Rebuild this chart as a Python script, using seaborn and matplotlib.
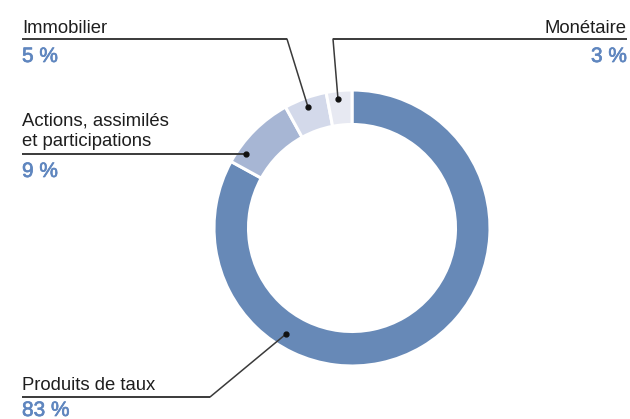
import matplotlib
matplotlib.use("Agg")
import matplotlib.pyplot as plt
import matplotlib.patheffects as pe
import seaborn as sns

# data
categories = ["Produits de taux", "Actions, assimilés\net participations", "Immobilier", "Monétaire"]
shares = [83, 9, 5, 3]
pct_labels = ["83 %", "9 %", "5 %", "3 %"]
colors = ["#6789b7", "#a7b6d4", "#d3d9ea", "#e7e9f2"]

sns.set_theme(style="white")
plt.rcParams['font.family'] = ['Liberation Sans', 'DejaVu Sans']

W, H = 630, 419
fig = plt.figure(figsize=(W / 100, H / 100), dpi=100)
ax = fig.add_axes([0, 0, 1, 1])


def Y(y):
    # pixel row (top-down) -> data y
    return H - y


cx, cy, R = 352, 228, 138
ax.pie(shares, colors=colors, startangle=90, counterclock=False,
       center=(cx, Y(cy)), radius=R, frame=True,
       wedgeprops=dict(width=R * 0.25, edgecolor="white", linewidth=2.2))
ax.set_xlim(0, W)
ax.set_ylim(0, H)
ax.set_aspect("equal")
ax.axis("off")

txt_col = "#1e1e1e"
pct_col = "#5f86bf"
line_col = "#3a3a3a"

# label layout: text x / baseline, alignment, underline span and row, dot on the wedge, pct baseline
layout = {
    "Produits de taux": dict(x=22, y=390, ha="left", ux=(22, 210), uy=397, dot=(286, 334), py=416),
    "Actions, assimilés\net participations": dict(x=22, y=146, ha="left", ux=(22, 246), uy=154, dot=(246, 154), py=177),
    "Immobilier": dict(x=22, y=33, ha="left", ux=(22, 287), uy=39, dot=(308, 107), py=62),
    "Monétaire": dict(x=627, y=33, ha="right", ux=(333, 627), uy=39, dot=(338, 99), py=62),
}

for cat, pct in zip(categories, pct_labels):
    L = layout[cat]
    ax.text(L["x"], Y(L["y"]), cat, ha=L["ha"], va="baseline", fontsize=13.3,
            color=txt_col, linespacing=1.25)
    ax.text(L["x"], Y(L["py"]), pct, ha=L["ha"], va="baseline", fontsize=15,
            color=pct_col,
            path_effects=[pe.withStroke(linewidth=0.5, foreground=pct_col)])
    x0, x1 = L["ux"]
    ax.plot([x0, x1], [Y(L["uy"]), Y(L["uy"])], color=line_col, lw=1.4,
            solid_capstyle="butt")
    # leader from the inner end of the underline to the wedge
    lx = x1 if L["ha"] == "left" else x0
    ax.plot([lx, L["dot"][0]], [Y(L["uy"]), Y(L["dot"][1])], color=line_col, lw=1.1)
    ax.plot(L["dot"][0], Y(L["dot"][1]), "o", color="#111111", ms=3.5)

fig.savefig("out.png", dpi=100)
